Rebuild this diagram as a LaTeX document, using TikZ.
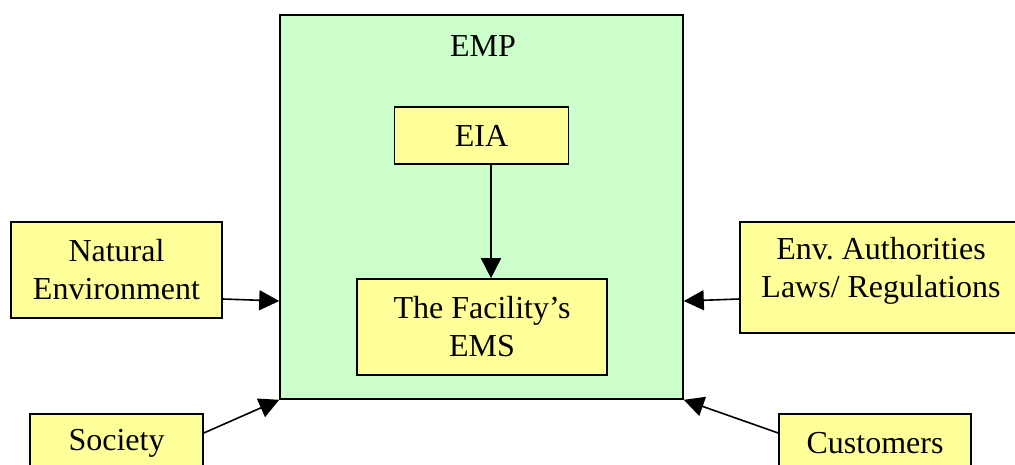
\documentclass[tikz,border=0pt]{standalone}
\usepackage{fontspec}
\setmainfont{Liberation Serif}
\usetikzlibrary{arrows.meta}
\frenchspacing
\definecolor{boxyellow}{HTML}{FFFF99}
\definecolor{empgreen}{HTML}{CCFFCC}
\tikzset{
	box/.style={draw,line width=1.6pt,fill=boxyellow,align=center,inner sep=0pt},
	arr/.style={line width=1.6pt,-{Triangle[length=20pt,width=20pt]}}
}

\begin{document}
\begin{tikzpicture}[x=1pt,y=-1pt,font=\fontsize{32}{38}\selectfont]
	\useasboundingbox (0,0) rectangle (1015,465);
	\clip (0,0) rectangle (1015,465);
	\node[box,fill=empgreen,minimum width=403pt,minimum height=384pt] (emp) at (481.5,207) {};
	\node (emplabel) at (483,46) {EMP};
	\node[box,minimum width=174pt,minimum height=57pt] (eia) at (481.5,135.5) {EIA};
	\node[box,minimum width=250pt,minimum height=96pt] (fac) at (482,327) {The Facility’s\\EMS};
	\node[box,minimum width=211pt,minimum height=96pt] (nat) at (116.5,270) {Natural\\Environment};
	\node[box,minimum width=282pt,minimum height=111pt] (env) at (881,277.5) {};
	\node[align=center] (envtext) at (881,271) {Env. Authorities\\Laws/ Regulations};
	\node[box,minimum width=173pt,minimum height=58pt] (soc) at (116.5,443) {Society};
	\node[box,minimum width=192pt,minimum height=58pt] (cust) at (875,443) {Customers};
	\draw[arr] ([xshift=9.5pt]eia.south)--([xshift=9pt]fac.north);
	\draw[arr] ([yshift=-29pt]nat.east)--([yshift=-94pt]emp.west);
	\draw[arr] ([yshift=-21.5pt]env.west)--([yshift=-94pt]emp.east);
	\draw[arr] ([yshift=10pt]soc.east)--(emp.south west);
	\draw[arr] ([yshift=10pt]cust.west)--(emp.south east);
\end{tikzpicture}
\end{document}
